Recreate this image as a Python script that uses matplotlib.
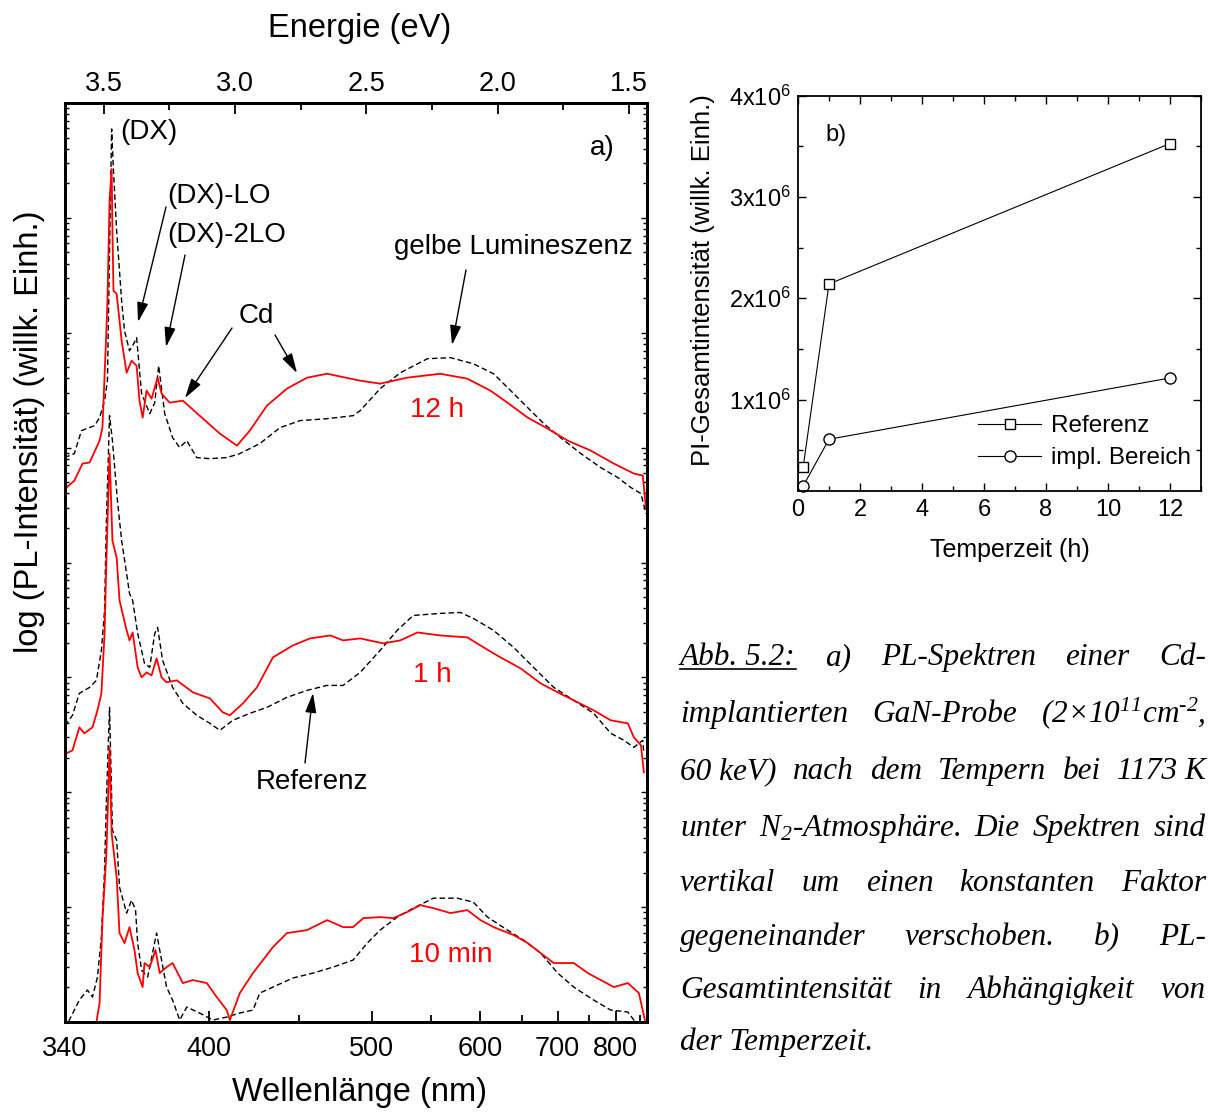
import numpy as np
import matplotlib
matplotlib.use('Agg')
import matplotlib.pyplot as plt
from matplotlib.lines import Line2D
from matplotlib.ticker import LogLocator, NullFormatter, MultipleLocator, FixedLocator

plt.rcParams['font.family'] = ['Liberation Sans', 'DejaVu Sans']
plt.rcParams['mathtext.default'] = 'regular'

# ---------------- data: panel a) (energy in eV, log10 intensity, arb. offsets) ----
E_12h_impl = [3.649, 3.641, 3.611, 3.580, 3.553, 3.527, 3.515, 3.504, 3.489, 3.485, 3.477, 3.469, 3.466,
              3.462, 3.450, 3.439, 3.431, 3.412, 3.393, 3.374, 3.363, 3.351, 3.336, 3.317, 3.294, 3.279,
              3.248, 3.198, 3.134, 3.057, 2.992, 2.943, 2.878, 2.802, 2.725, 2.649, 2.523, 2.447, 2.344,
              2.218, 2.115, 2.027, 1.962, 1.885, 1.809, 1.733, 1.645, 1.557, 1.481, 1.447, 1.435]
L_12h_impl = [4.600, 4.652, 4.713, 4.861, 4.870, 5.000, 5.061, 5.174, 6.017, 6.278, 7.148, 7.426, 6.887,
              6.365, 6.339, 6.104, 5.930, 5.652, 5.757, 5.713, 5.409, 5.261, 5.496, 5.426, 5.609, 5.470,
              5.391, 5.409, 5.278, 5.122, 5.017, 5.148, 5.365, 5.513, 5.609, 5.643, 5.583, 5.557, 5.609,
              5.643, 5.600, 5.496, 5.391, 5.261, 5.165, 5.061, 4.974, 4.861, 4.774, 4.757, 4.478]

E_12h_ref = [3.649, 3.611, 3.584, 3.534, 3.515, 3.496, 3.485, 3.477, 3.469, 3.462, 3.450, 3.431, 3.420,
             3.401, 3.389, 3.374, 3.355, 3.324, 3.305, 3.290, 3.267, 3.237, 3.210, 3.183, 3.145, 3.095,
             3.031, 2.981, 2.905, 2.828, 2.752, 2.649, 2.550, 2.523, 2.447, 2.370, 2.267, 2.179, 2.092,
             2.015, 1.950, 1.885, 1.824, 1.760, 1.683, 1.607, 1.542, 1.492, 1.454, 1.435]
L_12h_ref = [4.913, 4.948, 5.148, 5.191, 5.261, 5.409, 5.583, 6.713, 7.774, 7.409, 6.887, 6.278, 6.017,
             5.843, 5.887, 5.957, 5.470, 5.296, 5.391, 5.713, 5.296, 5.087, 5.000, 5.061, 4.913, 4.904,
             4.913, 4.948, 5.035, 5.174, 5.235, 5.252, 5.278, 5.322, 5.513, 5.652, 5.774, 5.783, 5.730,
             5.643, 5.496, 5.348, 5.209, 5.087, 4.948, 4.826, 4.739, 4.652, 4.600, 4.426]

E_1h_impl = [3.649, 3.641, 3.618, 3.592, 3.573, 3.542, 3.523, 3.508, 3.496, 3.489, 3.477, 3.466, 3.450,
             3.439, 3.412, 3.401, 3.389, 3.370, 3.355, 3.336, 3.317, 3.298, 3.279, 3.260, 3.221, 3.160,
             3.095, 3.046, 3.019, 2.969, 2.916, 2.855, 2.779, 2.714, 2.637, 2.588, 2.523, 2.435, 2.370,
             2.305, 2.218, 2.115, 2.053, 1.989, 1.912, 1.836, 1.771, 1.710, 1.634, 1.569, 1.504, 1.481,
             1.454, 1.443]
L_1h_impl = [2.304, 2.339, 2.365, 2.565, 2.513, 2.565, 2.713, 2.861, 3.383, 4.017, 4.948, 4.191, 4.043,
             3.670, 3.409, 3.322, 3.391, 3.087, 3.000, 3.043, 3.017, 3.165, 3.000, 2.957, 2.974, 2.870,
             2.817, 2.696, 2.670, 2.774, 2.913, 3.174, 3.278, 3.339, 3.365, 3.322, 3.339, 3.296, 3.322,
             3.391, 3.365, 3.348, 3.261, 3.174, 3.078, 2.948, 2.870, 2.800, 2.713, 2.626, 2.600, 2.478,
             2.409, 2.174]

E_1h_ref = [3.649, 3.641, 3.618, 3.592, 3.553, 3.527, 3.508, 3.496, 3.489, 3.477, 3.466, 3.447, 3.431,
            3.412, 3.401, 3.389, 3.370, 3.344, 3.324, 3.305, 3.294, 3.275, 3.237, 3.198, 3.145, 3.095,
            3.057, 3.008, 2.943, 2.878, 2.802, 2.725, 2.649, 2.588, 2.523, 2.447, 2.382, 2.321, 2.218,
            2.141, 2.092, 2.015, 1.939, 1.863, 1.786, 1.710, 1.634, 1.569, 1.519, 1.481, 1.447, 1.443]
L_1h_ref = [2.583, 2.600, 2.670, 2.861, 2.913, 2.974, 3.235, 3.583, 4.365, 5.278, 5.061, 4.539, 4.191,
            3.904, 3.730, 3.670, 3.383, 3.122, 3.087, 3.383, 3.435, 3.148, 2.913, 2.774, 2.670, 2.600,
            2.539, 2.626, 2.687, 2.739, 2.826, 2.887, 2.930, 2.930, 3.043, 3.235, 3.409, 3.539, 3.557,
            3.565, 3.513, 3.409, 3.261, 3.087, 2.913, 2.800, 2.687, 2.513, 2.452, 2.391, 2.452, 2.339]

E_10min_impl = [3.534, 3.527, 3.515, 3.504, 3.489, 3.485, 3.477, 3.469, 3.450, 3.439, 3.420, 3.401, 3.382,
                3.370, 3.351, 3.344, 3.324, 3.302, 3.286, 3.260, 3.237, 3.198, 3.160, 3.107, 3.069, 3.031,
                3.019, 2.981, 2.931, 2.893, 2.855, 2.802, 2.725, 2.649, 2.588, 2.550, 2.511, 2.447, 2.397,
                2.344, 2.294, 2.244, 2.179, 2.115, 2.065, 2.015, 1.939, 1.885, 1.836, 1.786, 1.710, 1.656,
                1.607, 1.557, 1.504, 1.462, 1.439]
L_10min_impl = [-0.157, 0.000, 0.165, 0.887, 1.470, 1.757, 2.391, 1.643, 1.261, 0.774, 0.687, 0.826, 0.626,
                0.426, 0.304, 0.513, 0.478, 0.626, 0.426, 0.478, 0.513, 0.339, 0.365, 0.339, 0.217, 0.104,
                0.017, 0.252, 0.426, 0.539, 0.652, 0.774, 0.800, 0.887, 0.826, 0.826, 0.904, 0.913, 0.904,
                0.957, 1.017, 0.991, 0.948, 0.974, 0.887, 0.826, 0.757, 0.687, 0.600, 0.513, 0.513, 0.426,
                0.365, 0.304, 0.339, 0.252, 0.017]

E_10min_ref = [3.637, 3.630, 3.611, 3.592, 3.561, 3.542, 3.523, 3.508, 3.496, 3.489, 3.477, 3.466, 3.450,
               3.439, 3.412, 3.393, 3.378, 3.370, 3.355, 3.332, 3.298, 3.279, 3.260, 3.237, 3.210, 3.183,
               3.134, 3.084, 3.031, 2.981, 2.931, 2.905, 2.855, 2.779, 2.702, 2.626, 2.550, 2.496, 2.447,
               2.382, 2.321, 2.244, 2.153, 2.092, 2.038, 1.962, 1.901, 1.836, 1.771, 1.710, 1.634, 1.569,
               1.504, 1.481, 1.454]
L_10min_ref = [-0.070, 0.017, 0.104, 0.191, 0.278, 0.217, 0.391, 0.739, 1.322, 1.930, 2.739, 1.670, 1.583,
               1.174, 0.948, 1.061, 0.974, 0.687, 0.452, 0.391, 0.774, 0.539, 0.304, 0.191, 0.017, 0.130,
               0.078, 0.017, 0.043, 0.078, 0.104, 0.252, 0.304, 0.383, 0.426, 0.478, 0.539, 0.687, 0.800,
               0.913, 0.991, 1.078, 1.078, 1.043, 0.913, 0.800, 0.713, 0.600, 0.426, 0.304, 0.191, 0.104,
               0.087, 0.017, -0.070]

wl_major = [340, 400, 500, 600, 700, 800]
wl_minor = [450, 550, 650, 750, 850]
eV_major = [3.5, 3.0, 2.5, 2.0, 1.5]
eV_minor = [3.25, 2.75, 2.25, 1.75]

# ---------------- data: panel b) ----
t_h = [1 / 6, 1, 12]
total_ref = [0.334e6, 2.141e6, 3.528e6]
total_impl = [0.146e6, 0.608e6, 1.213e6]
b_yticks = [1e6, 2e6, 3e6, 4e6]
b_ylabels = ['1x10$^6$', '2x10$^6$', '3x10$^6$', '4x10$^6$']

# ---------------- figure ----
FW, FH = 1208, 1112
fig = plt.figure(figsize=(FW / 100, FH / 100), dpi=100)


def fx(px):
    return px / FW


def fy(py):
    return 1 - py / FH


HC = 1239.84

ax = fig.add_axes([fx(65), fy(1022), fx(647) - fx(65), fy(103) - fy(1022)])
dash = (0, (4, 2.2))
for E, L in [(E_12h_ref, L_12h_ref), (E_1h_ref, L_1h_ref), (E_10min_ref, L_10min_ref)]:
    ax.plot(E, 10 ** np.array(L), color='black', lw=1.0, ls=dash)
for E, L in [(E_12h_impl, L_12h_impl), (E_1h_impl, L_1h_impl), (E_10min_impl, L_10min_impl)]:
    ax.plot(E, 10 ** np.array(L), color='#ff0000', lw=1.3)

ax.set_yscale('log')
ax.set_ylim(1, 1e8)
ax.set_xlim(HC / 340, 1.431)
ax.yaxis.set_major_locator(LogLocator(base=10, numticks=20))
ax.yaxis.set_minor_locator(LogLocator(base=10, subs=np.arange(2, 10), numticks=20))
ax.yaxis.set_major_formatter(NullFormatter())
ax.yaxis.set_minor_formatter(NullFormatter())
ax.tick_params(axis='y', which='both', direction='in', left=True, right=True, width=1.0)
ax.tick_params(axis='y', which='major', length=4)
ax.tick_params(axis='y', which='minor', length=3)

ax.set_xticks([HC / w for w in wl_major])
ax.set_xticklabels([str(w) for w in wl_major])
ax.set_xticks([HC / w for w in wl_minor], minor=True)
ax.tick_params(axis='x', which='both', direction='in', labelsize=19.5, pad=10, width=1.3)
ax.tick_params(axis='x', which='major', length=8)
ax.tick_params(axis='x', which='minor', length=5)

axt = ax.twiny()
axt.set_xlim(ax.get_xlim())
axt.set_xticks(eV_major)
axt.set_xticklabels(['%.1f' % v for v in eV_major])
axt.set_xticks(eV_minor, minor=True)
axt.tick_params(axis='x', which='both', direction='in', labelsize=19.5, pad=4, width=1.3)
axt.tick_params(axis='x', which='major', length=8)
axt.tick_params(axis='x', which='minor', length=5)
for a in (ax, axt):
    for s in a.spines.values():
        s.set_linewidth(2.0)

fig.text(fx(360), fy(28), 'Energie (eV)', ha='center', va='center', size=23.5)
fig.text(fx(360), fy(1093), 'Wellenlänge (nm)', ha='center', va='center', size=23.5)
fig.text(fx(30), fy(432), 'log (PL-Intensität) (willk. Einh.)', ha='center', va='center',
         rotation=90, size=23.5)

ann = 20
fig.text(fx(120), fy(132), '(DX)', ha='left', va='center', size=ann)
fig.text(fx(602), fy(148), 'a)', ha='center', va='center', size=ann)
fig.text(fx(167), fy(196), '(DX)-LO', ha='left', va='center', size=ann)
fig.text(fx(167), fy(235), '(DX)-2LO', ha='left', va='center', size=ann)
fig.text(fx(256), fy(316), 'Cd', ha='center', va='center', size=ann)
fig.text(fx(513), fy(247), 'gelbe Lumineszenz', ha='center', va='center', size=ann)
fig.text(fx(312), fy(782), 'Referenz', ha='center', va='center', size=ann)
fig.text(fx(437), fy(410), '12 h', ha='center', va='center', size=ann, color='#ff0000')
fig.text(fx(432), fy(675), '1 h', ha='center', va='center', size=ann, color='#ff0000')
fig.text(fx(451), fy(955), '10 min', ha='center', va='center', size=ann, color='#ff0000')

arrows = [((166, 207), (138, 322)), ((185, 255), (166, 347)), ((232, 328), (185, 398)),
          ((275, 335), (297, 373)), ((466, 270), (452, 345)), ((305, 763), (313, 693))]
for (tx, ty), (hx, hy) in arrows:
    fig.add_artist(matplotlib.patches.FancyArrowPatch(
        (fx(tx), fy(ty)), (fx(hx), fy(hy)), transform=fig.transFigure,
        arrowstyle='-|>,head_length=0.6,head_width=0.17', mutation_scale=20,
        lw=1.0, color='black', shrinkA=0, shrinkB=0))

# ---------------- panel b ----
ax2 = fig.add_axes([fx(798), fy(490.7), fx(1201) - fx(798), fy(95.7) - fy(490.7)])
ax2.plot(t_h, total_ref, color='black', lw=0.8, marker='s', ms=7, mfc='white', mec='black',
         mew=1.0, clip_on=False, label='Referenz')
ax2.plot(t_h, total_impl, color='black', lw=0.8, marker='o', ms=8, mfc='white', mec='black',
         mew=1.0, clip_on=False, label='impl. Bereich')
ax2.set_xlim(0, 13)
ax2.set_ylim(1e5, 4e6)
ax2.xaxis.set_major_locator(MultipleLocator(2))
ax2.xaxis.set_minor_locator(MultipleLocator(1))
ax2.set_yticks(b_yticks)
ax2.set_yticklabels(b_ylabels)
ax2.yaxis.set_minor_locator(FixedLocator([5e5, 1.5e6, 2.5e6, 3.5e6]))
ax2.tick_params(which='both', direction='in', top=True, right=True, labelsize=17, width=1.0)
ax2.tick_params(which='major', length=6)
ax2.tick_params(which='minor', length=3.5)
ax2.tick_params(axis='x', pad=6)
ax2.tick_params(axis='y', pad=5)
for s in ax2.spines.values():
    s.set_linewidth(1.3)
fig.text(fx(836), fy(135), 'b)', ha='center', va='center', size=17)
fig.text(fx(1010), fy(550), 'Temperzeit (h)', ha='center', va='center', size=18)
fig.text(fx(703), fy(280), 'PI-Gesamtintensität (willk. Einh.)', ha='center', va='center',
         rotation=90, size=18.5)
ax2.legend(loc='upper left', bbox_to_anchor=(fx(978), fy(415)), bbox_transform=fig.transFigure,
           frameon=False, fontsize=17.5, handlelength=2.6, handletextpad=0.4, labelspacing=0.42,
           borderpad=0, borderaxespad=0, numpoints=1)

# ---------------- caption (justified) ----
cap_lines = [
    ['Abb. 5.2:', 'a)', 'PL-Spektren', 'einer', 'Cd-'],
    ['implantierten', 'GaN-Probe', '(2×10$^{11}$cm$^{\u20102}$,'],
    ['60 keV)', 'nach', 'dem', 'Tempern', 'bei', '1173 K'],
    ['unter', 'N$_2$-Atmosphäre.', 'Die', 'Spektren', 'sind'],
    ['vertikal', 'um', 'einen', 'konstanten', 'Faktor'],
    ['gegeneinander', 'verschoben.', 'b)', 'PL-'],
    ['Gesamtintensität', 'in', 'Abhängigkeit', 'von'],
    ['der Temperzeit.'],
]
cap_base = [665, 722, 779, 836, 891, 945, 998, 1050]
cap_font = dict(family=['Liberation Serif', 'DejaVu Serif'], style='italic', size=22.5)
X0, X1 = 680, 1206
renderer = fig.canvas.get_renderer()
underline = None
for i, (words, yb) in enumerate(zip(cap_lines, cap_base)):
    ts = [fig.text(0, fy(yb), w, ha='left', va='baseline', **cap_font) for w in words]
    ws = [t.get_window_extent(renderer).width for t in ts]
    if len(ws) > 1 and i < len(cap_lines) - 1:
        gap = (X1 - X0 - sum(ws)) / (len(ws) - 1)
    else:
        gap = 7
    x = X0
    for t, w in zip(ts, ws):
        t.set_x(fx(x))
        x += w + gap
    if i == 0:
        underline = (X0, X0 + ws[0], yb + 4)
u0, u1, uy = underline
fig.add_artist(Line2D([fx(u0), fx(u1)], [fy(uy), fy(uy)], transform=fig.transFigure,
                      color='black', lw=1.2))

fig.savefig('out.png', dpi=100)
